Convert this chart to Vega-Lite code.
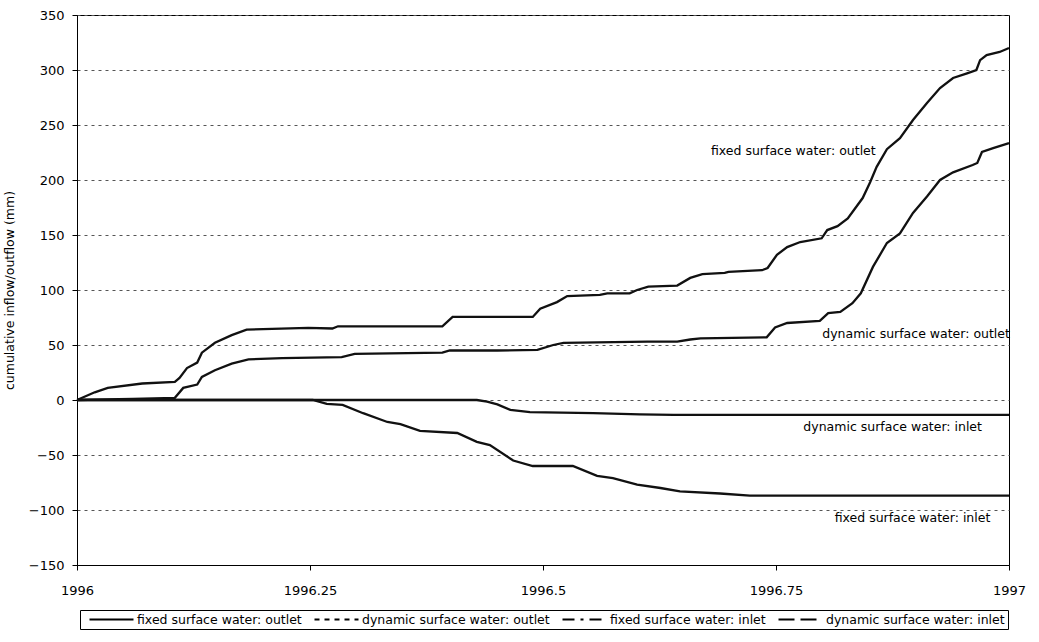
{
  "$schema": "https://vega.github.io/schema/vega-lite/v6.json",
  "width": 932,
  "height": 550,
  "autosize": "none",
  "padding": {"left": 77, "top": 15, "right": 30, "bottom": 77},
  "background": "white",
  "config": {
    "font": "DejaVu Sans",
    "view": {"stroke": "black", "strokeWidth": 1}
  },
  "datasets": {
    "lines": [
      {"series": "fixed surface water: outlet", "t": 1996.000, "v": 0},
      {"series": "fixed surface water: outlet", "t": 1996.019, "v": 7},
      {"series": "fixed surface water: outlet", "t": 1996.033, "v": 11},
      {"series": "fixed surface water: outlet", "t": 1996.070, "v": 15},
      {"series": "fixed surface water: outlet", "t": 1996.105, "v": 16.5},
      {"series": "fixed surface water: outlet", "t": 1996.110, "v": 20},
      {"series": "fixed surface water: outlet", "t": 1996.118, "v": 29},
      {"series": "fixed surface water: outlet", "t": 1996.129, "v": 34},
      {"series": "fixed surface water: outlet", "t": 1996.134, "v": 43},
      {"series": "fixed surface water: outlet", "t": 1996.148, "v": 52},
      {"series": "fixed surface water: outlet", "t": 1996.166, "v": 59},
      {"series": "fixed surface water: outlet", "t": 1996.182, "v": 64},
      {"series": "fixed surface water: outlet", "t": 1996.248, "v": 65.5},
      {"series": "fixed surface water: outlet", "t": 1996.274, "v": 65},
      {"series": "fixed surface water: outlet", "t": 1996.280, "v": 67},
      {"series": "fixed surface water: outlet", "t": 1996.392, "v": 67},
      {"series": "fixed surface water: outlet", "t": 1996.403, "v": 75.5},
      {"series": "fixed surface water: outlet", "t": 1996.489, "v": 75.5},
      {"series": "fixed surface water: outlet", "t": 1996.497, "v": 83},
      {"series": "fixed surface water: outlet", "t": 1996.515, "v": 89},
      {"series": "fixed surface water: outlet", "t": 1996.526, "v": 94.5},
      {"series": "fixed surface water: outlet", "t": 1996.561, "v": 95.5},
      {"series": "fixed surface water: outlet", "t": 1996.569, "v": 97},
      {"series": "fixed surface water: outlet", "t": 1996.593, "v": 97},
      {"series": "fixed surface water: outlet", "t": 1996.601, "v": 100},
      {"series": "fixed surface water: outlet", "t": 1996.613, "v": 103},
      {"series": "fixed surface water: outlet", "t": 1996.644, "v": 104},
      {"series": "fixed surface water: outlet", "t": 1996.658, "v": 111},
      {"series": "fixed surface water: outlet", "t": 1996.671, "v": 114.5},
      {"series": "fixed surface water: outlet", "t": 1996.695, "v": 115.5},
      {"series": "fixed surface water: outlet", "t": 1996.699, "v": 116.5},
      {"series": "fixed surface water: outlet", "t": 1996.735, "v": 118},
      {"series": "fixed surface water: outlet", "t": 1996.741, "v": 120},
      {"series": "fixed surface water: outlet", "t": 1996.751, "v": 132},
      {"series": "fixed surface water: outlet", "t": 1996.762, "v": 139},
      {"series": "fixed surface water: outlet", "t": 1996.776, "v": 143.6},
      {"series": "fixed surface water: outlet", "t": 1996.799, "v": 147},
      {"series": "fixed surface water: outlet", "t": 1996.805, "v": 154.5},
      {"series": "fixed surface water: outlet", "t": 1996.816, "v": 158},
      {"series": "fixed surface water: outlet", "t": 1996.827, "v": 165},
      {"series": "fixed surface water: outlet", "t": 1996.843, "v": 183.6},
      {"series": "fixed surface water: outlet", "t": 1996.851, "v": 198},
      {"series": "fixed surface water: outlet", "t": 1996.858, "v": 212},
      {"series": "fixed surface water: outlet", "t": 1996.869, "v": 228},
      {"series": "fixed surface water: outlet", "t": 1996.883, "v": 238},
      {"series": "fixed surface water: outlet", "t": 1996.897, "v": 254.5},
      {"series": "fixed surface water: outlet", "t": 1996.912, "v": 270},
      {"series": "fixed surface water: outlet", "t": 1996.926, "v": 283.6},
      {"series": "fixed surface water: outlet", "t": 1996.940, "v": 292.7},
      {"series": "fixed surface water: outlet", "t": 1996.955, "v": 297},
      {"series": "fixed surface water: outlet", "t": 1996.965, "v": 300},
      {"series": "fixed surface water: outlet", "t": 1996.969, "v": 309},
      {"series": "fixed surface water: outlet", "t": 1996.976, "v": 313.6},
      {"series": "fixed surface water: outlet", "t": 1996.990, "v": 316.4},
      {"series": "fixed surface water: outlet", "t": 1997.000, "v": 320},

      {"series": "dynamic surface water: outlet", "t": 1996.000, "v": 0},
      {"series": "dynamic surface water: outlet", "t": 1996.060, "v": 1},
      {"series": "dynamic surface water: outlet", "t": 1996.105, "v": 2},
      {"series": "dynamic surface water: outlet", "t": 1996.114, "v": 11},
      {"series": "dynamic surface water: outlet", "t": 1996.129, "v": 14},
      {"series": "dynamic surface water: outlet", "t": 1996.134, "v": 21},
      {"series": "dynamic surface water: outlet", "t": 1996.148, "v": 27},
      {"series": "dynamic surface water: outlet", "t": 1996.166, "v": 33},
      {"series": "dynamic surface water: outlet", "t": 1996.184, "v": 37},
      {"series": "dynamic surface water: outlet", "t": 1996.220, "v": 38},
      {"series": "dynamic surface water: outlet", "t": 1996.284, "v": 39},
      {"series": "dynamic surface water: outlet", "t": 1996.298, "v": 42},
      {"series": "dynamic surface water: outlet", "t": 1996.392, "v": 43},
      {"series": "dynamic surface water: outlet", "t": 1996.400, "v": 45},
      {"series": "dynamic surface water: outlet", "t": 1996.451, "v": 45},
      {"series": "dynamic surface water: outlet", "t": 1996.494, "v": 45.5},
      {"series": "dynamic surface water: outlet", "t": 1996.511, "v": 50},
      {"series": "dynamic surface water: outlet", "t": 1996.522, "v": 52},
      {"series": "dynamic surface water: outlet", "t": 1996.612, "v": 53},
      {"series": "dynamic surface water: outlet", "t": 1996.644, "v": 53},
      {"series": "dynamic surface water: outlet", "t": 1996.658, "v": 55},
      {"series": "dynamic surface water: outlet", "t": 1996.669, "v": 56},
      {"series": "dynamic surface water: outlet", "t": 1996.740, "v": 57},
      {"series": "dynamic surface water: outlet", "t": 1996.749, "v": 66},
      {"series": "dynamic surface water: outlet", "t": 1996.762, "v": 70},
      {"series": "dynamic surface water: outlet", "t": 1996.797, "v": 72},
      {"series": "dynamic surface water: outlet", "t": 1996.806, "v": 79},
      {"series": "dynamic surface water: outlet", "t": 1996.819, "v": 80},
      {"series": "dynamic surface water: outlet", "t": 1996.832, "v": 88},
      {"series": "dynamic surface water: outlet", "t": 1996.841, "v": 97},
      {"series": "dynamic surface water: outlet", "t": 1996.854, "v": 121},
      {"series": "dynamic surface water: outlet", "t": 1996.869, "v": 142.7},
      {"series": "dynamic surface water: outlet", "t": 1996.883, "v": 151.5},
      {"series": "dynamic surface water: outlet", "t": 1996.897, "v": 170},
      {"series": "dynamic surface water: outlet", "t": 1996.912, "v": 185},
      {"series": "dynamic surface water: outlet", "t": 1996.926, "v": 200},
      {"series": "dynamic surface water: outlet", "t": 1996.940, "v": 207},
      {"series": "dynamic surface water: outlet", "t": 1996.961, "v": 213.6},
      {"series": "dynamic surface water: outlet", "t": 1996.966, "v": 215.5},
      {"series": "dynamic surface water: outlet", "t": 1996.971, "v": 225.5},
      {"series": "dynamic surface water: outlet", "t": 1996.983, "v": 229},
      {"series": "dynamic surface water: outlet", "t": 1997.000, "v": 233.6},

      {"series": "fixed surface water: inlet", "t": 1996.000, "v": 0},
      {"series": "fixed surface water: inlet", "t": 1996.253, "v": 0},
      {"series": "fixed surface water: inlet", "t": 1996.268, "v": -3.5},
      {"series": "fixed surface water: inlet", "t": 1996.285, "v": -4.5},
      {"series": "fixed surface water: inlet", "t": 1996.307, "v": -12},
      {"series": "fixed surface water: inlet", "t": 1996.333, "v": -20},
      {"series": "fixed surface water: inlet", "t": 1996.347, "v": -22},
      {"series": "fixed surface water: inlet", "t": 1996.368, "v": -28},
      {"series": "fixed surface water: inlet", "t": 1996.408, "v": -30},
      {"series": "fixed surface water: inlet", "t": 1996.429, "v": -38},
      {"series": "fixed surface water: inlet", "t": 1996.443, "v": -41},
      {"series": "fixed surface water: inlet", "t": 1996.468, "v": -55},
      {"series": "fixed surface water: inlet", "t": 1996.489, "v": -60},
      {"series": "fixed surface water: inlet", "t": 1996.532, "v": -60},
      {"series": "fixed surface water: inlet", "t": 1996.558, "v": -69},
      {"series": "fixed surface water: inlet", "t": 1996.575, "v": -71},
      {"series": "fixed surface water: inlet", "t": 1996.601, "v": -77},
      {"series": "fixed surface water: inlet", "t": 1996.626, "v": -80},
      {"series": "fixed surface water: inlet", "t": 1996.647, "v": -83},
      {"series": "fixed surface water: inlet", "t": 1996.690, "v": -85},
      {"series": "fixed surface water: inlet", "t": 1996.722, "v": -87},
      {"series": "fixed surface water: inlet", "t": 1997.000, "v": -87},

      {"series": "dynamic surface water: inlet", "t": 1996.000, "v": 0},
      {"series": "dynamic surface water: inlet", "t": 1996.429, "v": 0},
      {"series": "dynamic surface water: inlet", "t": 1996.440, "v": -1.5},
      {"series": "dynamic surface water: inlet", "t": 1996.451, "v": -4},
      {"series": "dynamic surface water: inlet", "t": 1996.465, "v": -9},
      {"series": "dynamic surface water: inlet", "t": 1996.486, "v": -11},
      {"series": "dynamic surface water: inlet", "t": 1996.554, "v": -12},
      {"series": "dynamic surface water: inlet", "t": 1996.604, "v": -13},
      {"series": "dynamic surface water: inlet", "t": 1996.640, "v": -13.5},
      {"series": "dynamic surface water: inlet", "t": 1997.000, "v": -13.5}
    ],
    "labels": [
      {"label": "fixed surface water: outlet", "t": 1996.857, "v": 226},
      {"label": "dynamic surface water: outlet", "t": 1997.001, "v": 60},
      {"label": "dynamic surface water: inlet", "t": 1996.971, "v": -24.5},
      {"label": "fixed surface water: inlet", "t": 1996.980, "v": -107}
    ]
  },
  "encoding": {
    "x": {
      "field": "t",
      "type": "quantitative",
      "scale": {"domain": [1996, 1997], "nice": false, "zero": false},
      "axis": {
        "title": null,
        "values": [1996, 1996.25, 1996.5, 1996.75, 1997],
        "format": ".2~f",
        "labelFlush": false,
        "grid": false,
        "domainColor": "black",
        "tickColor": "black",
        "tickSize": 5,
        "labelPadding": 14,
        "labelFontSize": 13,
        "labelColor": "black",
        "labelFont": "DejaVu Sans"
      }
    },
    "y": {
      "field": "v",
      "type": "quantitative",
      "scale": {"domain": [-150, 350], "nice": false, "zero": false},
      "axis": {
        "title": "cumulative inflow/outflow (mm)",
        "titleFontSize": 12.5,
        "titleFontWeight": "normal",
        "titleFont": "DejaVu Sans",
        "titleColor": "black",
        "titlePadding": 12,
        "values": [-150, -100, -50, 0, 50, 100, 150, 200, 250, 300, 350],
        "grid": true,
        "gridColor": "#555",
        "gridDash": [3, 4],
        "gridWidth": 1,
        "domainColor": "black",
        "tickColor": "black",
        "tickSize": 5,
        "labelPadding": 8,
        "labelFontSize": 13,
        "labelColor": "black",
        "labelFont": "DejaVu Sans"
      }
    }
  },
  "layer": [
    {
      "data": {"name": "lines"},
      "mark": {"type": "line", "color": "#111", "strokeWidth": 2.3, "interpolate": "linear"},
      "encoding": {
        "detail": {"field": "series", "type": "nominal"}
      }
    },
    {
      "data": {"name": "lines"},
      "mark": {"type": "line", "color": "#111", "strokeWidth": 2, "opacity": 0},
      "encoding": {
        "strokeDash": {
          "field": "series",
          "type": "nominal",
          "scale": {
            "domain": ["fixed surface water: outlet", "dynamic surface water: outlet", "fixed surface water: inlet", "dynamic surface water: inlet"],
            "range": [[1, 0], [5, 5], [12, 6, 3, 6], [16, 6]]
          },
          "legend": {
            "title": null,
            "orient": "none",
            "legendX": 3,
            "legendY": 595,
            "direction": "horizontal",
            "columns": 4,
            "strokeColor": "black",
            "padding": 3,
            "labelFontSize": 12.5,
            "labelFont": "DejaVu Sans",
            "labelColor": "black",
            "labelLimit": 400,
            "labelOffset": 41,
            "columnPadding": 6,
            "symbolType": "M0,0H8",
            "symbolSize": 121,
            "symbolStrokeWidth": 2,
            "symbolStrokeColor": "black",
            "symbolFillColor": "transparent",
            "symbolOpacity": 1,
            "encode": {
              "symbols": {"update": {"opacity": {"value": 1}, "strokeOpacity": {"value": 1}, "stroke": {"value": "black"}, "fill": {"value": "transparent"}}}
            }
          }
        }
      }
    },
    {
      "data": {"name": "labels"},
      "mark": {"type": "text", "align": "right", "baseline": "middle", "fontSize": 12.5, "font": "DejaVu Sans", "color": "black"},
      "encoding": {
        "text": {"field": "label", "type": "nominal"}
      }
    }
  ]
}
